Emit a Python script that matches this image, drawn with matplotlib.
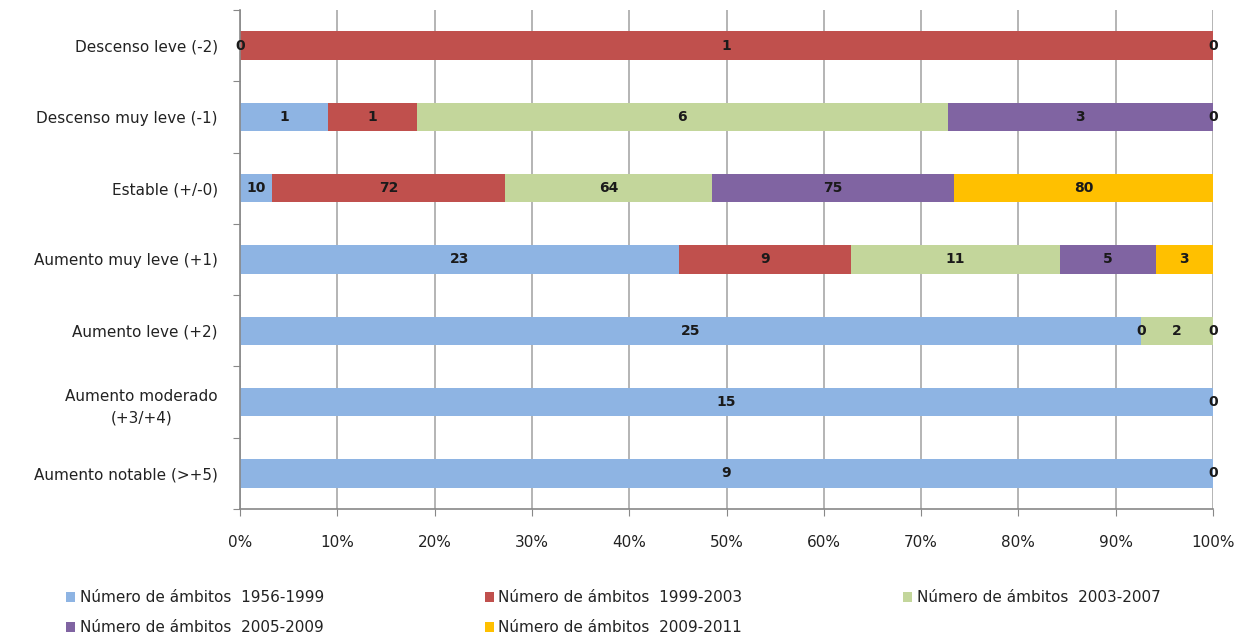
import numpy as np
import matplotlib.pyplot as plt

# Categories (top to bottom) and counts per period
categories = ['Descenso leve (-2)', 'Descenso muy leve (-1)', 'Estable (+/-0)',
              'Aumento muy leve (+1)', 'Aumento leve (+2)', 'Aumento moderado\n(+3/+4)',
              'Aumento notable (>+5)']
series_names = ['Número de ámbitos  1956-1999', 'Número de ámbitos  1999-2003',
                'Número de ámbitos  2003-2007', 'Número de ámbitos  2005-2009',
                'Número de ámbitos  2009-2011']
nan = np.nan
s1956 = [0, 1, 10, 23, 25, 15, 9]
s1999 = [1, 1, 72, 9, 0, nan, nan]
s2003 = [nan, 6, 64, 11, 2, nan, nan]
s2005 = [nan, 3, 75, 5, nan, nan, nan]
s2009 = [0, 0, 80, 3, 0, 0, 0]
colors = ['#8EB4E3', '#C0504D', '#C3D69B', '#8064A2', '#FFC000']

counts = np.array([s1956, s1999, s2003, s2005, s2009], dtype=float)
totals = np.nansum(counts, axis=0)
shares = counts / totals

fig = plt.figure(figsize=(12.47, 6.44), dpi=100)
ax = fig.add_axes([0.1925, 0.2096, 0.7802, 0.7749])

y = np.arange(len(categories))
left = np.zeros(len(categories))
bars = []
for i in range(len(series_names)):
    w = np.nan_to_num(shares[i])
    b = ax.barh(y, w, left=left, height=0.4, color=colors[i], label=series_names[i], zorder=2)
    bars.append(b)
    for j in range(len(categories)):
        if not np.isnan(counts[i, j]):
            ax.text(left[j] + w[j] / 2, y[j], f'{int(counts[i, j])}', ha='center', va='center',
                    fontsize=10, fontweight='bold', color='#1a1a1a', zorder=3)
    left += w

ax.set_xlim(0, 1)
ax.set_ylim(len(categories) - 0.5, -0.5)
ax.set_xticks(np.arange(0, 1.01, 0.1))
ax.set_xticklabels([f'{int(round(v * 100))}%' for v in np.arange(0, 1.01, 0.1)])
ax.set_yticks(np.arange(-0.5, len(categories), 1.0))
ax.set_yticklabels([])
ax.set_yticks(y, minor=True)
ax.set_yticklabels(categories, minor=True, multialignment='center', linespacing=1.6)
ax.tick_params(axis='y', which='minor', length=0, pad=16, labelsize=11, labelcolor='#222222')
ax.tick_params(axis='y', which='major', length=5, color='#888888')
ax.tick_params(axis='x', length=5, color='#888888', pad=14, labelsize=11, labelcolor='#222222')
ax.grid(True, axis='x', color='#a0a0a0', linewidth=1.1, zorder=0)
for s in ['top', 'right']:
    ax.spines[s].set_visible(False)
for s in ['left', 'bottom']:
    ax.spines[s].set_color('#888888')
    ax.spines[s].set_linewidth(1.2)

# row-major legend order
order = [0, 3, 1, 4, 2]
fig.legend([bars[k] for k in order], [series_names[k] for k in order],
           loc='upper left', bbox_to_anchor=(0.042, 0.105), ncol=3, frameon=False,
           handlelength=0.6, handleheight=0.6, handletextpad=0.3, columnspacing=10.5,
           fontsize=11, labelspacing=1.0, labelcolor='#222222')

fig.savefig('out.png', dpi=100)
